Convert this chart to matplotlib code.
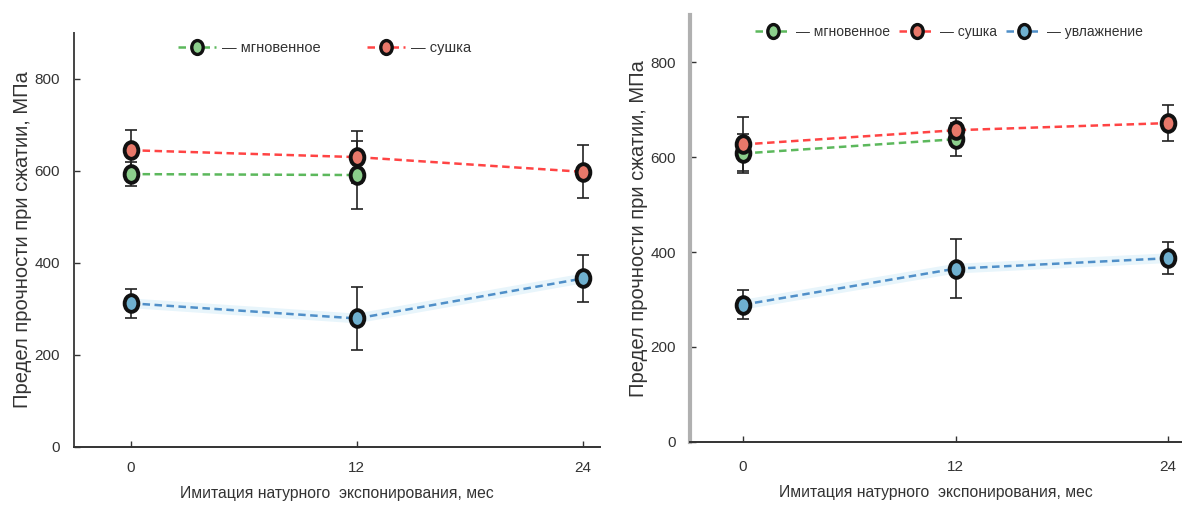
import matplotlib
matplotlib.use("Agg")
import matplotlib.pyplot as plt
from matplotlib.lines import Line2D
from matplotlib.path import Path
from matplotlib.transforms import Affine2D

months = [0, 12, 24]
months_instant = [0, 12]

left_instant = [593, 591]
left_instant_err = [26, 74]
left_dry = [645, 630, 598]
left_dry_err = [43, 57, 58]
left_wet = [312, 279, 366]
left_wet_err = [32, 69, 51]

right_instant = [608, 638]
right_instant_err = [42, 35]
right_dry = [627, 657, 672]
right_dry_err = [57, 25, 38]
right_wet = [289, 365, 387]
right_wet_err = [31, 62, 34]

yticks = [0, 200, 400, 600, 800]
xticks = [0, 12, 24]
ylabel = "Предел прочности при сжатии, МПа"
xlabel = "Имитация натурного  экспонирования, мес"
lab_instant = "— мгновенное"
lab_dry = "— сушка"
lab_wet = "— увлажнение"

NARROW = ["Liberation Sans Narrow", "Liberation Sans", "DejaVu Sans"]
REG = ["Liberation Sans", "DejaVu Sans"]

ELLIPSE = Path.unit_circle().transformed(Affine2D().scale(0.82, 1.0))

styles = {
    "instant": dict(line="#5cb85c", face="#8ccf8c"),
    "dry": dict(line="#ff4444", face="#e8786a"),
    "wet": dict(line="#4f8fc8", face="#6fb0cf"),
}

fig = plt.figure(figsize=(11.82, 5.08), dpi=100)

def draw(ax, x, y, err, key, glow=False):
    st = styles[key]
    if glow:
        ax.plot(x, y, color="#cce9f7", lw=7, alpha=0.45, zorder=1, solid_capstyle="round")
    ax.errorbar(x, y, yerr=err, fmt="none", ecolor="#222222", elinewidth=1.2,
                capsize=4, capthick=1.2, zorder=2)
    ax.plot(x, y, ls=(0, (3, 1.8)), color=st["line"], lw=1.8, zorder=3)
    ax.plot(x, y, ls="none", marker=ELLIPSE, ms=12, mfc=st["face"], mec="#111111",
            mew=2.8, zorder=4)

def handle(key):
    st = styles[key]
    return Line2D([], [], ls=(0, (3, 1.8)), color=st["line"], lw=1.8, marker=ELLIPSE,
                  ms=10, mfc=st["face"], mec="#111111", mew=2.4)

def style_axes(ax, left_color, left_lw, xr, ylab_x, xpad):
    ax.set_ylim(0, 900)
    ax.set_xlim(-3, xr)
    ax.set_yticks(yticks)
    ax.set_xticks(xticks)
    for s in ["top", "right"]:
        ax.spines[s].set_visible(False)
    ax.spines["left"].set_color(left_color)
    ax.spines["left"].set_linewidth(left_lw)
    ax.spines["bottom"].set_color("#333333")
    ax.spines["bottom"].set_linewidth(1.4)
    ax.tick_params(direction="in", length=4, width=1, color="#333333",
                   labelsize=11, labelcolor="#333333", pad=10)
    ax.tick_params(axis="x", pad=xpad)
    for t in ax.get_xticklabels() + ax.get_yticklabels():
        t.set_family(NARROW)
    ax.set_ylabel(ylabel, family=REG, fontsize=14.5, color="#333333")
    ax.yaxis.set_label_coords(ylab_x, 0.5)
    ax.set_xlabel(xlabel, family=NARROW, fontsize=11.3, color="#333333", labelpad=8)

# Left panel
axL = fig.add_axes([74/1182, 1 - 446.7/508, 526/1182, 413.7/508])
draw(axL, months, left_wet, left_wet_err, "wet", glow=True)
draw(axL, months_instant, left_instant, left_instant_err, "instant")
draw(axL, months, left_dry, left_dry_err, "dry")
style_axes(axL, "#444444", 1.4, 24.9, (32 - 74) / 526, 10)

legL = fig.legend([handle("instant"), handle("dry")], [lab_instant, lab_dry],
                  loc="center left", bbox_to_anchor=(165/1182, 1 - 47.7/508),
                  ncol=2, frameon=False, handlelength=2.6, handletextpad=0.4,
                  columnspacing=3.2, prop={"family": NARROW, "size": 10.5})
for t in legL.get_texts():
    t.set_color("#333333")

# Right panel
axR = fig.add_axes([690/1182, 1 - 441.7/508, 492/1182, 426.7/508])
draw(axR, months, right_wet, right_wet_err, "wet", glow=True)
draw(axR, months_instant, right_instant, right_instant_err, "instant")
draw(axR, months, right_dry, right_dry_err, "dry")
style_axes(axR, "#b0b0b0", 3.0, 24.79, (648 - 690) / 492, 13)

legR = fig.legend([handle("instant"), handle("dry"), handle("wet")],
                  [lab_instant, lab_dry, lab_wet],
                  loc="center left", bbox_to_anchor=(742/1182, 1 - 31.7/508),
                  ncol=3, frameon=False, handlelength=2.6, handletextpad=0.4,
                  columnspacing=0.6, prop={"family": NARROW, "size": 10})
for t in legR.get_texts():
    t.set_color("#333333")

fig.savefig("out.png", dpi=100)
